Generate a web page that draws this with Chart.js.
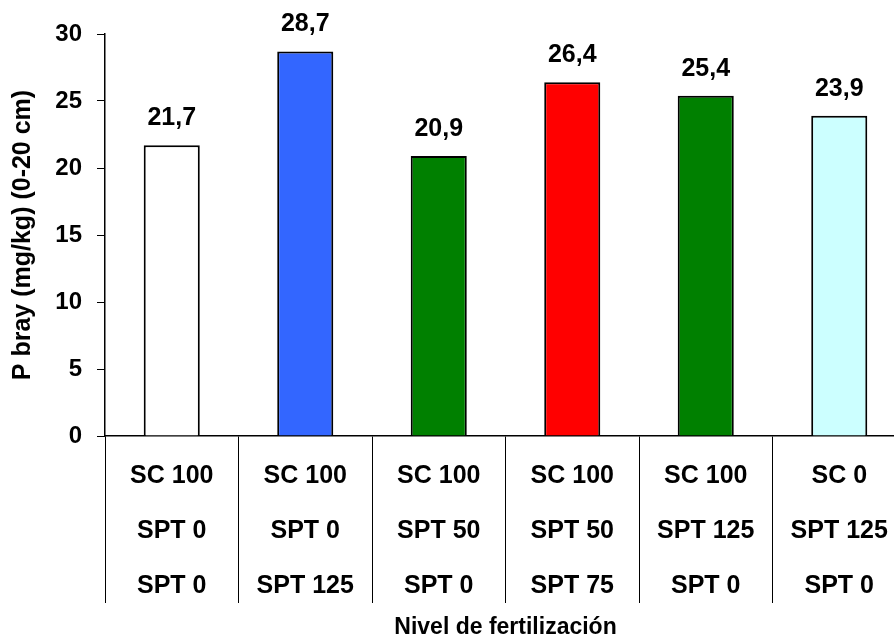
<!DOCTYPE html>
<html>
<head>
<meta charset="utf-8">
<script src="https://cdn.jsdelivr.net/npm/chart.js@4"></script>
<style>
  html, body { margin: 0; padding: 0; background: #fff; overflow: hidden; }
  #wrap { width: 906px; height: 641px; }
</style>
</head>
<body>
<div id="wrap"><canvas id="chart" width="906" height="641"></canvas></div>
<script>
// categories: three fertilizer levels per treatment
const treatments = [
    ['SC 100', 'SPT 0', 'SPT 0'],
    ['SC 100', 'SPT 0', 'SPT 125'],
    ['SC 100', 'SPT 50', 'SPT 0'],
    ['SC 100', 'SPT 50', 'SPT 75'],
    ['SC 100', 'SPT 125', 'SPT 0'],
    ['SC 0', 'SPT 125', 'SPT 0']
];
const pBray = [21.7, 28.7, 20.9, 26.4, 25.4, 23.9];
const barColors = ['#FFFFFF', '#3366FF', '#008000', '#FF0000', '#008000', '#CCFFFF'];
const yTicks = [0, 5, 10, 15, 20, 25, 30];

const FONT = "'Liberation Sans', Arial, sans-serif";

// value labels above each bar, comma decimal
const valueLabels = {
    id: 'valueLabels',
    afterDatasetsDraw(chart) {
        const ctx = chart.ctx;
        const meta = chart.getDatasetMeta(0);
        ctx.save();
        ctx.font = 'bold 25px ' + FONT;
        ctx.fillStyle = '#000';
        ctx.textAlign = 'center';
        ctx.textBaseline = 'middle';
        meta.data.forEach((bar, i) => {
            const txt = pBray[i].toFixed(1).replace('.', ',');
            ctx.fillText(txt, bar.x, bar.y - 27);
        });
        ctx.restore();
    }
};

new Chart(document.getElementById('chart').getContext('2d'), {
    type: 'bar',
    data: {
        labels: treatments,
        datasets: [{
            data: pBray,
            backgroundColor: barColors,
            borderColor: '#000',
            borderWidth: 2,
            barPercentage: 0.42,
            categoryPercentage: 1
        }]
    },
    options: {
        responsive: false,
        animation: false,
        layout: { padding: { top: 34, right: 0, left: 0, bottom: 0 } },
        plugins: {
            legend: { display: false },
            tooltip: { enabled: false }
        },
        scales: {
            x: {
                grid: {
                    offset: true,
                    drawOnChartArea: false,
                    tickLength: 167,
                    color: '#000',
                    lineWidth: 1
                },
                border: { color: '#000', width: 1.5 },
                ticks: {
                    color: '#000',
                    font: { family: FONT, size: 25, weight: 'bold', lineHeight: 2.2 },
                    padding: -154,
                    maxRotation: 0,
                    autoSkip: false
                },
                title: {
                    display: true,
                    text: 'Nivel de fertilización',
                    color: '#000',
                    font: { family: FONT, size: 23, weight: 'bold' },
                    padding: { top: 0, bottom: 0 }
                },
                afterFit(scale) { scale.height = 205; }
            },
            y: {
                min: 0,
                max: 30,
                afterBuildTicks(scale) { scale.ticks = yTicks.map(v => ({ value: v })); },
                grid: {
                    drawOnChartArea: false,
                    tickLength: 8,
                    color: '#000'
                },
                border: { color: '#000', width: 1.5 },
                ticks: {
                    color: '#000',
                    font: { family: FONT, size: 24, weight: 'bold' },
                    padding: 15
                },
                title: {
                    display: true,
                    text: 'P bray (mg/kg) (0-20 cm)',
                    color: '#000',
                    font: { family: FONT, size: 25, weight: 'bold' },
                    padding: { top: 8, bottom: 0 }
                },
                afterFit(scale) { scale.width = 105; }
            }
        }
    },
    plugins: [valueLabels]
});
</script>
</body>
</html>
